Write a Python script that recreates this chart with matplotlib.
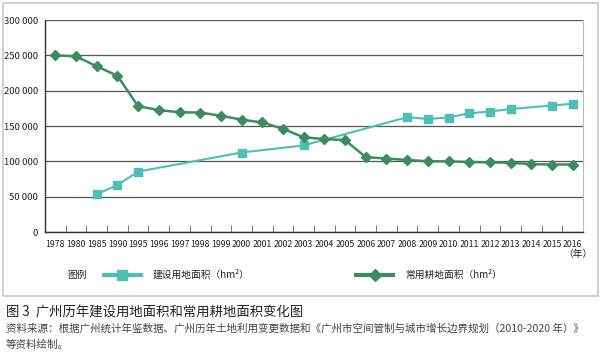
import matplotlib
matplotlib.use("Agg")
import matplotlib.pyplot as plt
from matplotlib.patches import Rectangle
from matplotlib.lines import Line2D
from matplotlib.ticker import FuncFormatter

plt.rcParams['font.family'] = ['Noto Sans CJK SC', 'DejaVu Sans']

# data
years = ['1978', '1980', '1985', '1990', '1995', '1996', '1997', '1998', '1999', '2000',
         '2001', '2002', '2003', '2004', '2005', '2006', '2007', '2008', '2009', '2010',
         '2011', '2012', '2013', '2014', '2015', '2016']
build_years = ['1985', '1990', '1995', '2000', '2003', '2008', '2009', '2010', '2011',
               '2012', '2013', '2015', '2016']
build_area = [53500, 66500, 85500, 112500, 122500, 162500, 160000, 162000, 168000,
              170500, 174000, 179000, 181500]
farm_area = [250000, 248500, 234500, 221000, 178000, 172500, 169500, 169000, 164500, 159000,
             155000, 146000, 134000, 131500, 130000, 106000, 104000, 102000, 100000, 100000,
             99000, 98500, 98000, 96000, 95500, 95500]

c_build = '#4dbfb4'
c_farm = '#3c8d5e'

fig = plt.figure(figsize=(6.02, 3.55), dpi=100)
fig.add_artist(Rectangle((3 / 602, 1 - 296 / 355), 595 / 602, 293 / 355,
                         transform=fig.transFigure, fill=False, edgecolor='#c8c8c8', lw=1.2))

ax = fig.add_axes([45 / 602, 1 - 232 / 355, 538 / 602, 212 / 355])
x_all = list(range(len(years)))
x_build = [years.index(y) for y in build_years]

ax.plot(x_build, build_area, color=c_build, lw=1.5, marker='s', ms=6, zorder=3)
ax.plot(x_all, farm_area, color=c_farm, lw=1.8, marker='D', ms=4.8, zorder=4)

ax.set_xlim(-0.5, len(years) - 0.5)
ax.set_ylim(0, 300000)
ax.set_yticks(range(0, 300001, 50000))
ax.yaxis.set_major_formatter(FuncFormatter(lambda v, p: f'{int(v):,}'.replace(',', ' ')))
ax.grid(axis='y', color='#555555', lw=0.9)
ax.set_axisbelow(True)

ax.set_xticks(x_all)
ax.set_xticklabels(years)
ax.set_xticks([i + 0.5 for i in x_all[:-1]], minor=True)
ax.tick_params(axis='x', which='major', length=0, pad=6, labelsize=6.3, labelcolor='#222222')
ax.tick_params(axis='x', which='minor', direction='in', length=5, color='#666666')
ax.tick_params(axis='y', length=0, pad=5, labelsize=6.8, labelcolor='#222222')

for s in ['left', 'bottom']:
    ax.spines[s].set_color('#333333')
    ax.spines[s].set_linewidth(1.0)
ax.spines['top'].set_visible(False)
ax.spines['right'].set_color('#bbbbbb')

fig.text(592 / 602, 1 - 254 / 355, '（年）', ha='right', va='center', fontsize=7, color='#222222')

# legend
fig.text(67 / 602, 1 - 275 / 355, '图例', ha='left', va='center', fontsize=7, color='#222222')
handles = [Line2D([], [], color=c_build, lw=3, marker='s', ms=7),
           Line2D([], [], color=c_farm, lw=3, marker='D', ms=6)]
fig.legend(handles, ['建设用地面积（hm²）', '常用耕地面积（hm²）'], loc='center left',
           bbox_to_anchor=(99 / 602, 1 - 275 / 355), ncol=2, frameon=False, fontsize=7,
           handlelength=3.8, handletextpad=1.2, columnspacing=11.0, borderpad=0,
           labelcolor='#222222')

# caption
fig.text(6 / 602, 1 - 313 / 355, '图 3  广州历年建设用地面积和常用耕地面积变化图',
         ha='left', va='center', fontsize=9.6, color='#222222')
fig.text(6 / 602, 1 - 329 / 355,
         '资料来源：根据广州统计年鉴数据、广州历年土地利用变更数据和《广州市空间管制与城市增长边界规划（2010-2020 年）》',
         ha='left', va='center', fontsize=7.6, color='#444444')
fig.text(6 / 602, 1 - 345 / 355, '等资料绘制。', ha='left', va='center', fontsize=7.6, color='#444444')

fig.savefig('out.png', dpi=100)
